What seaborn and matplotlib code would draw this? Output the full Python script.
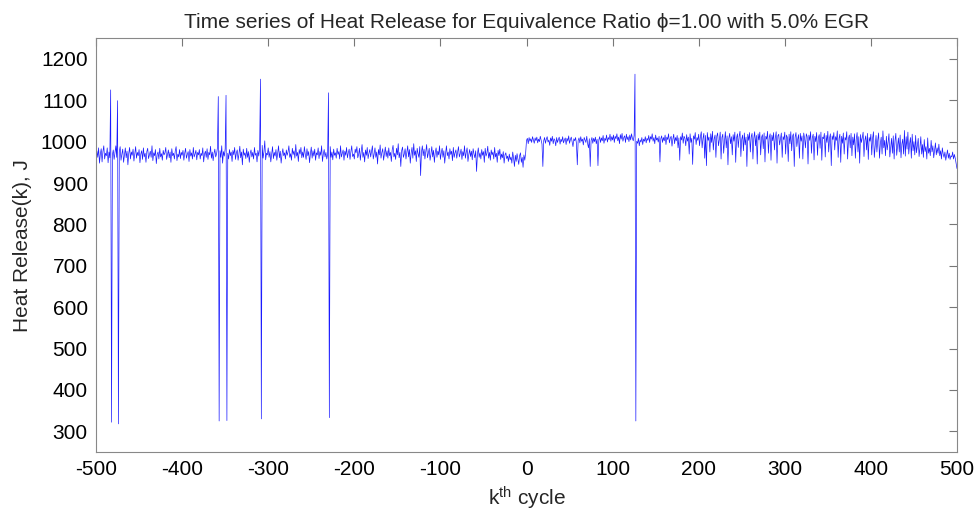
import numpy as np
import pandas as pd
import matplotlib
matplotlib.use("Agg")
import matplotlib.pyplot as plt
import seaborn as sns

# Heat release per cycle, k = -500 .. -1
hr_before = [
    955, 978, 962, 985, 948, 970, 983, 951, 976, 990, 958, 972, 966, 985, 949, 975, 961, 1125, 322, 968,
    980, 957, 973, 990, 962, 1099, 318, 975, 988, 955, 970, 982, 950, 968, 985, 961, 977, 944, 972, 986,
    958, 975, 967, 982, 953, 971, 988, 960, 974, 966, 981, 949, 970, 978, 957, 985, 963, 972, 950, 976,
    984, 959, 968, 977, 962, 990, 954, 973, 966, 981, 947, 969, 975, 958, 984, 963, 971, 955, 979, 968,
    973, 986, 957, 969, 980, 961, 975, 950, 983, 966, 972, 958, 977, 988, 954, 970, 963, 981, 959, 974,
    967, 979, 955, 972, 984, 960, 969, 976, 952, 981, 965, 973, 958, 986, 963, 970, 979, 956, 974, 968,
    981, 958, 972, 966, 985, 951, 970, 977, 962, 983, 957, 974, 968, 989, 960, 975, 954, 971, 982, 963,
    970, 985, 1109, 325, 978, 962, 990, 948, 976, 965, 983, 1112, 326, 972, 958, 981, 966, 975, 952, 979,
    968, 986, 957, 973, 980, 955, 970, 989, 961, 975, 944, 982, 967, 973, 959, 984, 962, 976, 950, 971,
    980, 963, 974, 958, 986, 967, 972, 951, 979, 965, 983, 1151, 330, 991, 960, 975, 1002, 956, 972, 968,
    985, 962, 976, 951, 970, 988, 959, 974, 965, 981, 955, 972, 990, 961, 977, 948, 969, 983, 966, 973,
    958, 980, 967, 975, 990, 962, 971, 955, 984, 969, 978, 960, 993, 965, 974, 952, 981, 970, 986, 961,
    975, 962, 988, 970, 957, 983, 966, 976, 949, 971, 987, 960, 978, 965, 982, 955, 973, 968, 985, 959,
    976, 967, 990, 952, 970, 981, 963, 974, 958, 969, 1118, 333, 988, 962, 975, 956, 982, 967, 973, 960,
    984, 969, 976, 958, 990, 963, 972, 980, 955, 977, 967, 986, 961, 973, 982, 957, 975, 990, 964, 970,
    958, 982, 973, 988, 961, 969, 984, 955, 976, 993, 962, 974, 951, 980, 967, 986, 959, 972, 981, 963,
    977, 990, 958, 970, 985, 962, 975, 946, 981, 968, 992, 960, 974, 983, 955, 971, 987, 964, 978, 960,
    985, 966, 974, 952, 980, 991, 963, 972, 957, 984, 968, 995, 961, 974, 940, 978, 987, 962, 970, 983,
    958, 975, 990, 963, 981, 948, 972, 986, 960, 995, 967, 978, 952, 984, 971, 962, 988, 918, 975, 990,
    966, 982, 958, 976, 993, 961, 972, 984, 955, 970, 988, 963, 979, 950, 974, 985, 962, 977, 968, 990,
    957, 973, 984, 962, 978, 948, 971, 990, 966, 975, 958, 983, 969, 977, 954, 986, 962, 973, 980, 960,
    975, 988, 963, 971, 982, 957, 976, 966, 990, 960, 974, 985, 952, 969, 981, 964, 977, 956, 983, 970,
    961, 978, 928, 970, 985, 962, 973, 958, 981, 967, 976, 950, 984, 965, 972, 989, 960, 974, 955, 980,
    968, 975, 958, 986, 963, 972, 950, 979, 966, 982, 957, 970, 961, 976, 948, 968, 973, 959, 965, 952,
    970, 956, 963, 948, 975, 960, 940, 967, 952, 971, 958, 945, 966, 973, 950, 962, 938, 968, 955, 972,
]

# Heat release per cycle, k = 0 .. 500
hr_after = [
    1003, 1008, 995, 1010, 1001, 1007, 998, 1012, 1004, 996, 1009, 1002, 1011, 997, 1006, 1000, 1013, 1003, 994, 940,
    1002, 1010, 996, 1006, 1012, 999, 1004, 991, 1009, 1001, 1013, 995, 1007, 1003, 990, 1010, 998, 1005, 1011, 994,
    1006, 1000, 1012, 997, 1004, 1009, 993, 1008, 1001, 1014, 996, 1005, 1011, 999, 988, 1007, 1002, 1010, 996, 944,
    1003, 1009, 997, 1012, 1001, 1006, 992, 1010, 1004, 998, 1013, 995, 985, 1007, 940, 1002, 1010, 996, 1008, 1000,
    1011, 995, 1006, 942, 1004, 1012, 998, 1009, 1002, 1015, 996, 1008, 1003, 1016, 999, 1010, 1005, 1018, 1001, 1012,
    1004, 1016, 998, 1013, 1007, 1019, 1002, 1011, 995, 1017, 1006, 1020, 1001, 1010, 1014, 998, 1018, 1005, 1012, 1000,
    1016, 1004, 1019, 1008, 1002, 1015, 1163, 325, 1001, 996, 1008, 990, 1004, 999, 1010, 993, 1006, 1001, 1012, 997,
    1008, 1003, 1015, 998, 1012, 1006, 1019, 1001, 1010, 995, 1016, 1004, 1009, 999, 1013, 951, 1007, 1014, 998, 1010,
    1002, 1016, 993, 1011, 1005, 1019, 997, 1008, 1013, 989, 1006, 1018, 995, 1010, 1002, 1015, 985, 1009, 955, 1012,
    1004, 1021, 996, 1013, 1008, 990, 1017, 1001, 1011, 970, 1019, 998, 1008, 945, 1014, 1006, 1022, 993, 1010, 1003,
    1018, 990, 1012, 1024, 985, 1008, 1020, 960, 1015, 942, 1022, 1003, 1011, 975, 1019, 998, 1025, 980, 1007, 1016,
    962, 1013, 1021, 990, 1005, 1023, 958, 1010, 1018, 972, 1002, 1024, 985, 1014, 944, 1008, 1020, 995, 1012, 968,
    1017, 1001, 1023, 950, 1009, 1019, 986, 1013, 1025, 964, 1006, 1016, 978, 1021, 992, 1011, 940, 1018, 1003, 1022,
    975, 1012, 1020, 958, 1008, 1024, 990, 1015, 946, 1019, 1004, 1023, 968, 1010, 1017, 983, 1021, 951, 1013, 1006,
    1025, 972, 1011, 1019, 955, 1016, 1002, 1022, 980, 1009, 1024, 948, 1014, 1018, 992, 1007, 1021, 962, 1012, 1005,
    1023, 970, 1016, 1010, 952, 1018, 995, 1024, 978, 1013, 1019, 940, 1011, 1022, 988, 1006, 1017, 960, 1020, 1001,
    1014, 958, 1021, 1008, 985, 1019, 1012, 946, 1016, 1003, 1024, 972, 1010, 1018, 956, 1013, 1000, 1022, 967, 1009,
    1017, 984, 1023, 955, 1011, 1007, 1020, 963, 1015, 998, 1025, 975, 1009, 1019, 942, 1014, 1005, 1022, 980, 1012,
    1003, 1026, 962, 1008, 1018, 950, 1013, 996, 1021, 970, 1010, 1004, 1024, 958, 1007, 1016, 985, 1020, 966, 1011,
    992, 1019, 960, 1005, 1022, 975, 1012, 948, 1017, 998, 1009, 1023, 964, 1003, 1014, 980, 1020, 957, 1010, 1001,
    1018, 968, 1008, 1024, 962, 990, 1015, 975, 1004, 1021, 960, 995, 1011, 970, 1026, 985, 1003, 966, 1013, 980,
    998, 1019, 963, 987, 1008, 972, 1014, 958, 1002, 1020, 967, 990, 1009, 975, 1016, 961, 994, 1006, 970, 1027,
    965, 1012, 982, 1023, 970, 995, 1010, 960, 1018, 978, 1000, 968, 1015, 973, 990, 1008, 964, 985, 1012, 970,
    993, 962, 1005, 976, 988, 958, 1009, 972, 984, 966, 1003, 975, 990, 961, 980, 997, 968, 985, 972, 994,
    966, 978, 958, 985, 970, 962, 975, 955, 968, 980, 960, 972, 957, 966, 963, 975, 958, 969, 960, 948,
    935,
]

x_ticks = [-500, -400, -300, -200, -100, 0, 100, 200, 300, 400, 500]
y_ticks = [300, 400, 500, 600, 700, 800, 900, 1000, 1100, 1200]

hr = hr_before + hr_after
k = np.arange(-len(hr_before), len(hr_after))
df = pd.DataFrame({"k": k, "hr": hr})

sns.set_style("white")
plt.rcParams["font.family"] = ["Liberation Sans", "DejaVu Sans"]
plt.rcParams["axes.unicode_minus"] = False
plt.rcParams["mathtext.fontset"] = "custom"
plt.rcParams["mathtext.rm"] = "Liberation Sans"
plt.rcParams["mathtext.it"] = "Liberation Sans:italic"

fig = plt.figure(figsize=(9.75, 5.16), dpi=100)
ax = fig.add_axes([0.0985, 0.124, 0.883, 0.802])
sns.lineplot(data=df, x="k", y="hr", ax=ax, color="#1a1aff", linewidth=0.5, estimator=None)

ax.set_xlim(-500, 500)
ax.set_ylim(250, 1250)
ax.set_xticks(x_ticks)
ax.set_yticks(y_ticks)
ax.tick_params(direction="in", length=6, width=0.8, colors="#777777", labelcolor="black",
               labelsize=15, top=True, right=True, pad=6)
for s in ax.spines.values():
    s.set_color("#888888")
    s.set_linewidth(0.8)

ax.set_title("Time series of Heat Release for Equivalence Ratio ϕ=1.00 with 5.0% EGR",
             fontsize=15, pad=7)
ax.set_xlabel(r"k$^{\mathrm{th}}$ cycle", fontsize=15, labelpad=4)
ax.set_ylabel("Heat Release(k), J", fontsize=15, labelpad=6)

fig.savefig("out.png", dpi=100)
